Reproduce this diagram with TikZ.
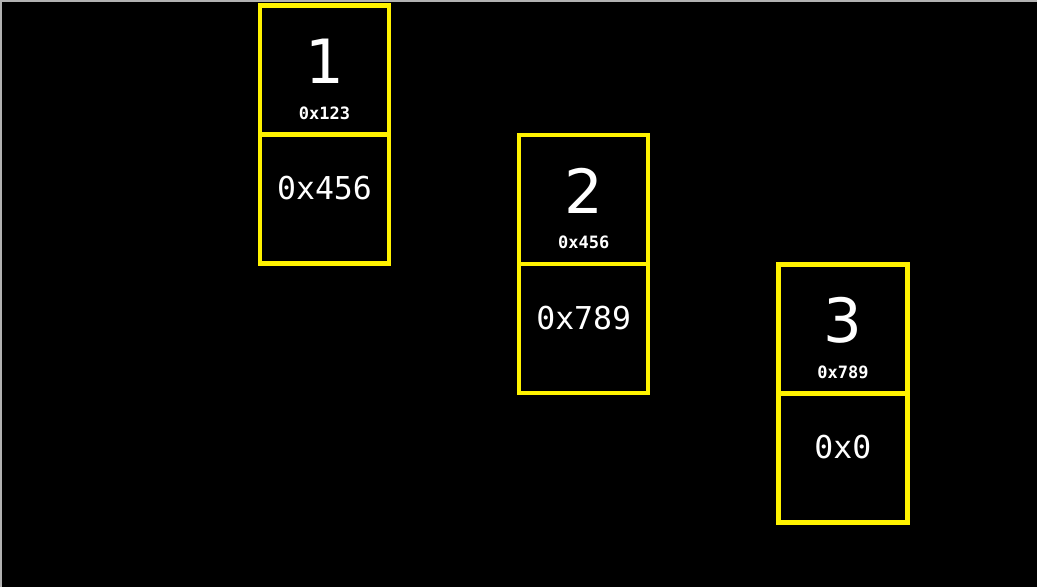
\documentclass[tikz,border=0pt]{standalone}
\usepackage{fontspec}
\setmainfont{DejaVu Sans}
\setmonofont{DejaVu Sans Mono}
\usetikzlibrary{positioning}

\begin{document}
\begin{tikzpicture}[x=1pt,y=-1pt]

\tikzstyle{cell}=[draw=yellow, line width=4.5pt, minimum width=129pt, minimum height=129pt, inner sep=0pt, outer sep=0pt]
\tikzstyle{bignum}=[text=white, font=\fontsize{61}{61}\selectfont, inner sep=0pt]
\tikzstyle{smalladdr}=[text=white, font=\ttfamily\bfseries\fontsize{17}{17}\selectfont, inner sep=0pt]
\tikzstyle{linkaddr}=[text=white, font=\ttfamily\fontsize{31.5}{31.5}\selectfont, inner sep=0pt]

\useasboundingbox (0,0) rectangle (1037,587);
\fill[black] (0,0) rectangle (1037,587);
\draw[gray!60, line width=2pt] (1,587) -- (1,1) -- (1037,1);

% one list element per step: value, own address, address of the following one
\foreach \val/\own/\link [count=\i] in {1/0x123/0x456, 2/0x456/0x789, 3/0x789/0x0} {
    \node[cell] (top\i) at ({324.5+259.2*(\i-1)}, {70+129.5*(\i-1)}) {};
    \node[cell, below=0pt of top\i] (bot\i) {};
    \node[bignum] (num\i) at ([yshift=8.5pt]top\i.center) {\val};
    \node[smalladdr] (addr\i) at ([yshift=-43pt]top\i.center) {\own};
    \node[linkaddr] (link\i) at ([yshift=10.5pt]bot\i.center) {\link};
}

\end{tikzpicture}
\end{document}
